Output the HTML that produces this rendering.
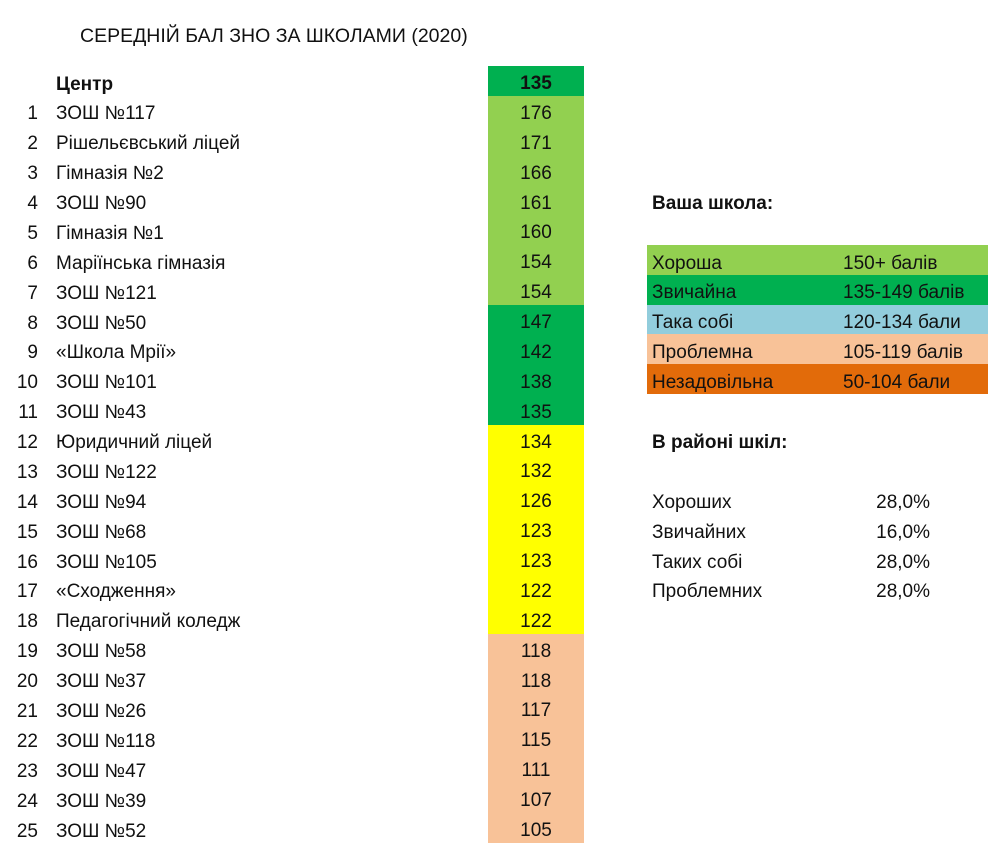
<!DOCTYPE html>
<html><head><meta charset="utf-8"><style>
body{margin:0;width:1000px;height:857px;background:#fff;font-family:"Liberation Sans","DejaVu Sans",sans-serif;font-size:19px;color:#111;position:relative;overflow:hidden}
.t{position:absolute;white-space:nowrap;line-height:30px;height:30px}
.c{position:absolute}
</style></head><body>
<div class="t" style="left:80px;top:21px;font-size:19.5px">СЕРЕДНІЙ БАЛ ЗНО ЗА ШКОЛАМИ (2020)</div>
<div id="root"></div>
<script>
const schools=["ЗОШ №117","Рішельєвський ліцей","Гімназія №2","ЗОШ №90","Гімназія №1","Маріїнська гімназія","ЗОШ №121","ЗОШ №50","«Школа Мрії»","ЗОШ №101","ЗОШ №43","Юридичний ліцей","ЗОШ №122","ЗОШ №94","ЗОШ №68","ЗОШ №105","«Сходження»","Педагогічний коледж","ЗОШ №58","ЗОШ №37","ЗОШ №26","ЗОШ №118","ЗОШ №47","ЗОШ №39","ЗОШ №52"];
const scores=[176,171,166,161,160,154,154,147,142,138,135,134,132,126,123,123,122,122,118,118,117,115,111,107,105];
const centerScore=135;
const legendNames=["Хороша","Звичайна","Така собі","Проблемна","Незадовільна"];
const legendRanges=["150+ балів","135-149 балів","120-134 бали","105-119 балів","50-104 бали"];
const statNames=["Хороших","Звичайних","Таких собі","Проблемних"];
const statValues=["28,0%","16,0%","28,0%","28,0%"];
const root=document.getElementById('root');
const top0=66,pitch=29.88,tOff=3.5;
function rowY(i){return top0+i*pitch;}
function colorFor(v){return v>=150?'#92d050':v>=135?'#00b050':v>=120?'#ffff00':v>=105?'#f8c298':'#e26b0a';}
function add(cls,css,text,name){const d=document.createElement('div');d.className=cls;d.style.cssText=css;if(text!==undefined)d.textContent=text;


root.appendChild(d);return d;}
function scoreCell(i,v,bold,name){
 add('c',`left:488px;top:${rowY(i)}px;width:96px;height:${pitch+0.6}px;background:${colorFor(v)};line-height:${pitch+2*tOff}px;text-align:center;${bold?'font-weight:bold;':''}`,String(v),name);
}
add('t',`left:56px;top:${rowY(0)+tOff}px;font-weight:bold`,'Центр','center-label');
scoreCell(0,centerScore,true,'center-score');
schools.forEach((s,k)=>{const i=k+1;
 add('t',`left:0;width:38px;text-align:right;top:${rowY(i)+tOff}px`,String(i),'rank-'+i);
 add('t',`left:56px;top:${rowY(i)+tOff}px`,s,'school-name-'+i);
 scoreCell(i,scores[k],false,'score-'+i);
});
add('t',`left:652px;top:${rowY(4)+tOff}px;font-weight:bold`,'Ваша школа:','legend-title');
const lc=['#92d050','#00b050','#92cddc','#f8c298','#e26b0a'];
legendNames.forEach((n,k)=>{const y=245+k*29.8;
 add('c',`left:647px;top:${y}px;width:341px;height:30px;background:${lc[k]}`,undefined,'legend-row-'+k);
 add('t',`left:652px;top:${y+tOff}px`,n,'legend-name-'+k);
 add('t',`left:843px;top:${y+tOff}px`,legendRanges[k],'legend-range-'+k);
});
add('t',`left:652px;top:${rowY(12)+tOff}px;font-weight:bold`,'В районі шкіл:','stats-title');
statNames.forEach((n,k)=>{const y=rowY(14+k)+tOff;
 add('t',`left:652px;top:${y}px`,n,'stat-name-'+k);
 add('t',`left:830px;width:100px;text-align:right;top:${y}px`,statValues[k],'stat-value-'+k);
});
</script>
</body></html>
